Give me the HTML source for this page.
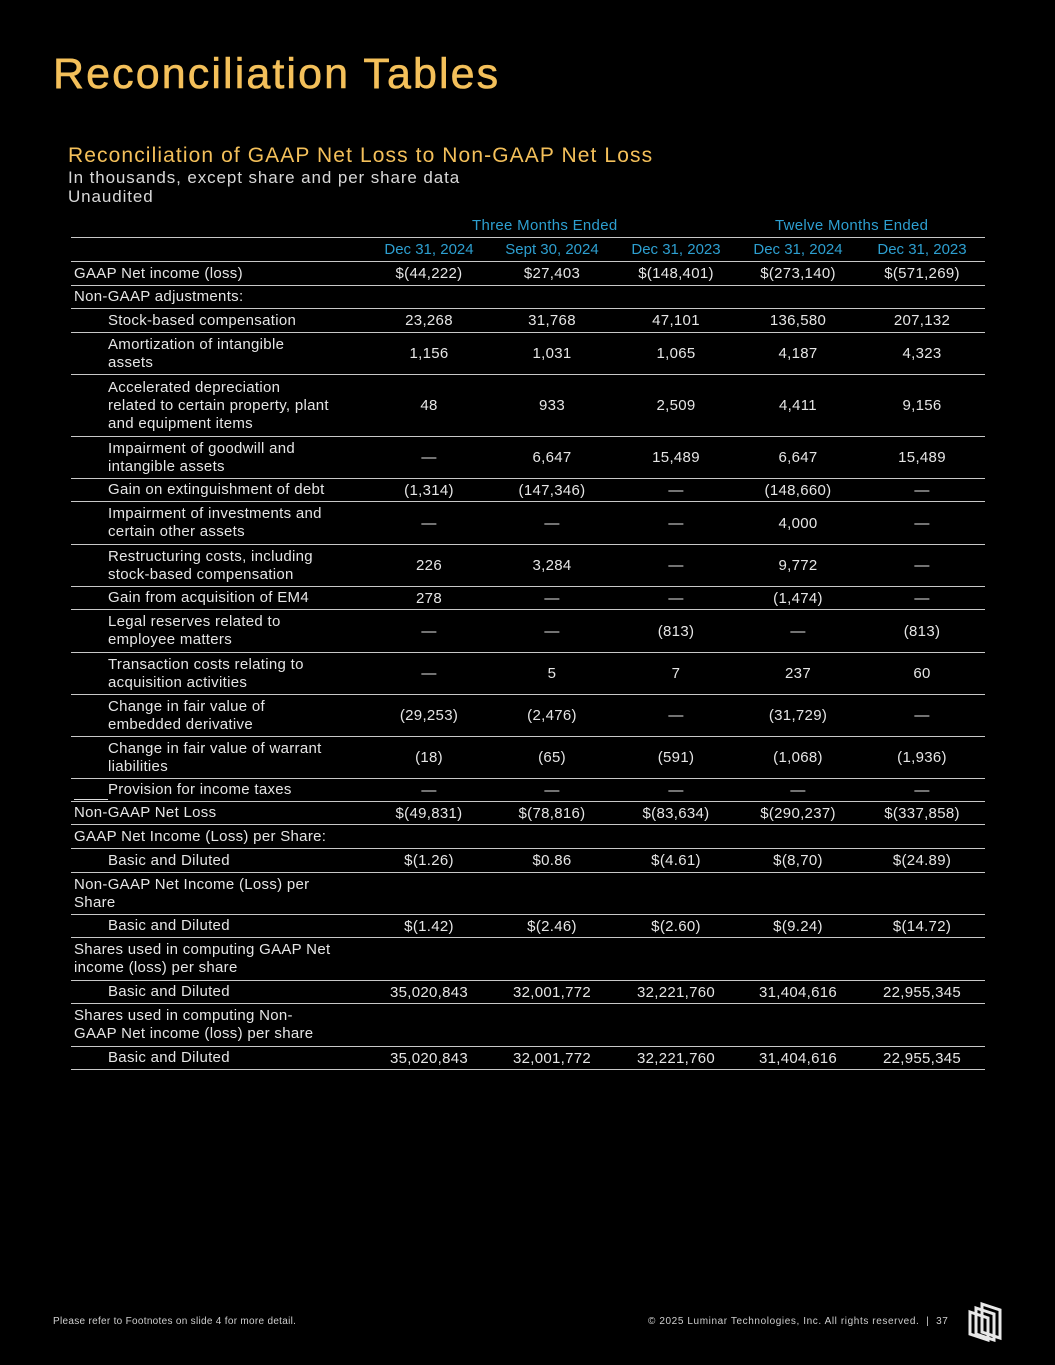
<!DOCTYPE html>
<html><head><meta charset="utf-8"><style>
body{margin:0;background:#000;width:1055px;height:1365px;position:relative;overflow:hidden;font-family:"Liberation Sans","DejaVu Sans",sans-serif;color:#e6e6e6}
.a{position:absolute}
h1{position:absolute;left:53px;top:50px;margin:0;font-size:43px;font-weight:normal;color:#f4c05a;letter-spacing:2.1px;-webkit-text-stroke:0.6px #f4c05a}
.st{position:absolute;left:68px;top:144px;font-size:21px;color:#f4c05a;letter-spacing:1.1px}
.sub{position:absolute;left:68px;top:169px;font-size:17px;line-height:18.5px;color:#d8d8d8;letter-spacing:.9px}
.r{position:absolute;left:71px;width:914px;border-bottom:1.5px solid #c8c8c8;box-sizing:border-box;font-size:15px;letter-spacing:.3px}
.l{position:absolute;left:3px;top:0;bottom:0;display:flex;align-items:center;line-height:18px;width:300px}
.l.i{left:37px;width:262px}
.v{position:absolute;top:0;bottom:0;width:130px;display:flex;align-items:center;justify-content:center}
.c1{left:293px}.c2{left:416px}.c3{left:540px}.c4{left:662px}.c5{left:786px}
.h{color:#2d9fd0;font-size:15px}
.f{position:absolute;top:1316px;font-size:10px;color:#cfcfcf;letter-spacing:.6px}
</style></head><body>
<h1>Reconciliation Tables</h1>
<div class="st">Reconciliation of GAAP Net Loss to Non-GAAP Net Loss</div>
<div class="sub">In thousands, except share and per share data<br>Unaudited</div>

<div class="a h" style="left:472px;top:217px;letter-spacing:.3px">Three Months Ended</div>
<div class="a h" style="left:775px;top:217px;letter-spacing:.3px">Twelve Months Ended</div>
<div class="r" style="top:237px;height:1px"></div>
<div class="r h" style="top:238px;height:24px;letter-spacing:0"><span class="v c1">Dec 31, 2024</span><span class="v c2">Sept 30, 2024</span><span class="v c3">Dec 31, 2023</span><span class="v c4">Dec 31, 2024</span><span class="v c5">Dec 31, 2023</span></div>

<div class="r" style="top:262px;height:24px"><span class="l">GAAP Net income (loss)</span><span class="v c1">$(44,222)</span><span class="v c2">$27,403</span><span class="v c3">$(148,401)</span><span class="v c4">$(273,140)</span><span class="v c5">$(571,269)</span></div>
<div class="r" style="top:286px;height:23px"><span class="l">Non-GAAP adjustments:</span></div>
<div class="r" style="top:309px;height:24px"><span class="l i">Stock-based compensation</span><span class="v c1">23,268</span><span class="v c2">31,768</span><span class="v c3">47,101</span><span class="v c4">136,580</span><span class="v c5">207,132</span></div>
<div class="r" style="top:333px;height:42px"><span class="l i">Amortization of intangible<br>assets</span><span class="v c1">1,156</span><span class="v c2">1,031</span><span class="v c3">1,065</span><span class="v c4">4,187</span><span class="v c5">4,323</span></div>
<div class="r" style="top:375px;height:62px"><span class="l i">Accelerated depreciation<br>related to certain property, plant<br>and equipment items</span><span class="v c1">48</span><span class="v c2">933</span><span class="v c3">2,509</span><span class="v c4">4,411</span><span class="v c5">9,156</span></div>
<div class="r" style="top:437px;height:42px"><span class="l i">Impairment of goodwill and<br>intangible assets</span><span class="v c1">—</span><span class="v c2">6,647</span><span class="v c3">15,489</span><span class="v c4">6,647</span><span class="v c5">15,489</span></div>
<div class="r" style="top:479px;height:23px"><span class="l i">Gain on extinguishment of debt</span><span class="v c1">(1,314)</span><span class="v c2">(147,346)</span><span class="v c3">—</span><span class="v c4">(148,660)</span><span class="v c5">—</span></div>
<div class="r" style="top:502px;height:43px"><span class="l i">Impairment of investments and<br>certain other assets</span><span class="v c1">—</span><span class="v c2">—</span><span class="v c3">—</span><span class="v c4">4,000</span><span class="v c5">—</span></div>
<div class="r" style="top:545px;height:42px"><span class="l i">Restructuring costs, including<br>stock-based compensation</span><span class="v c1">226</span><span class="v c2">3,284</span><span class="v c3">—</span><span class="v c4">9,772</span><span class="v c5">—</span></div>
<div class="r" style="top:587px;height:23px"><span class="l i">Gain from acquisition of EM4</span><span class="v c1">278</span><span class="v c2">—</span><span class="v c3">—</span><span class="v c4">(1,474)</span><span class="v c5">—</span></div>
<div class="r" style="top:610px;height:43px"><span class="l i">Legal reserves related to<br>employee matters</span><span class="v c1">—</span><span class="v c2">—</span><span class="v c3">(813)</span><span class="v c4">—</span><span class="v c5">(813)</span></div>
<div class="r" style="top:653px;height:42px"><span class="l i">Transaction costs relating to<br>acquisition activities</span><span class="v c1">—</span><span class="v c2">5</span><span class="v c3">7</span><span class="v c4">237</span><span class="v c5">60</span></div>
<div class="r" style="top:695px;height:42px"><span class="l i">Change in fair value of<br>embedded derivative</span><span class="v c1">(29,253)</span><span class="v c2">(2,476)</span><span class="v c3">—</span><span class="v c4">(31,729)</span><span class="v c5">—</span></div>
<div class="r" style="top:737px;height:42px"><span class="l i">Change in fair value of warrant<br>liabilities</span><span class="v c1">(18)</span><span class="v c2">(65)</span><span class="v c3">(591)</span><span class="v c4">(1,068)</span><span class="v c5">(1,936)</span></div>
<div class="r" style="top:779px;height:23px;text-decoration:underline"><span class="a" style="left:3px;top:20px;width:34px;border-top:1px solid #ddd"></span><span class="l i">Provision for income taxes</span><span class="v c1">—</span><span class="v c2">—</span><span class="v c3">—</span><span class="v c4">—</span><span class="v c5">—</span></div>
<div class="r" style="top:802px;height:23px"><span class="l">Non-GAAP Net Loss</span><span class="v c1">$(49,831)</span><span class="v c2">$(78,816)</span><span class="v c3">$(83,634)</span><span class="v c4">$(290,237)</span><span class="v c5">$(337,858)</span></div>
<div class="r" style="top:825px;height:24px"><span class="l">GAAP Net Income (Loss) per Share:</span></div>
<div class="r" style="top:849px;height:24px"><span class="l i">Basic and Diluted</span><span class="v c1">$(1.26)</span><span class="v c2">$0.86</span><span class="v c3">$(4.61)</span><span class="v c4">$(8,70)</span><span class="v c5">$(24.89)</span></div>
<div class="r" style="top:873px;height:42px"><span class="l">Non-GAAP Net Income (Loss) per<br>Share</span></div>
<div class="r" style="top:915px;height:23px"><span class="l i">Basic and Diluted</span><span class="v c1">$(1.42)</span><span class="v c2">$(2.46)</span><span class="v c3">$(2.60)</span><span class="v c4">$(9.24)</span><span class="v c5">$(14.72)</span></div>
<div class="r" style="top:938px;height:43px"><span class="l">Shares used in computing GAAP Net<br>income (loss) per share</span></div>
<div class="r" style="top:981px;height:23px"><span class="l i">Basic and Diluted</span><span class="v c1">35,020,843</span><span class="v c2">32,001,772</span><span class="v c3">32,221,760</span><span class="v c4">31,404,616</span><span class="v c5">22,955,345</span></div>
<div class="r" style="top:1004px;height:43px"><span class="l">Shares used in computing Non-<br>GAAP Net income (loss) per share</span></div>
<div class="r" style="top:1047px;height:23px"><span class="l i">Basic and Diluted</span><span class="v c1">35,020,843</span><span class="v c2">32,001,772</span><span class="v c3">32,221,760</span><span class="v c4">31,404,616</span><span class="v c5">22,955,345</span></div>

<div class="f" style="left:53px;letter-spacing:.3px">Please refer to Footnotes on slide 4 for more detail.</div>
<div class="f" style="left:648px">© 2025 Luminar Technologies, Inc. All rights reserved. &nbsp;| &nbsp;37</div>
<svg class="a" style="left:966px;top:1300px" width="40" height="42" viewBox="0 0 40 42">
<g fill="none" stroke="#e8e8e8" stroke-width="3">
<path d="M16 4 L34 10 L34 38 L16 32 Z"/>
<path d="M10 8 L28 14 L28 40 L10 34 Z"/>
<path d="M4 12 L22 18 L22 40 L4 34 Z"/>
</g></svg>
</body></html>
